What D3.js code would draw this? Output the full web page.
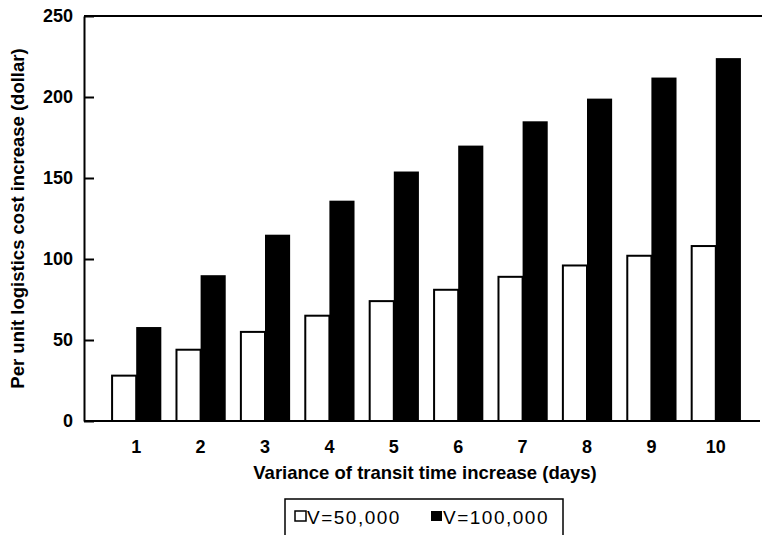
<!DOCTYPE html>
<meta charset="utf-8">
<style>
body {
  margin: 0;
  background-color: #fff;
}
text {
  font-family: "Liberation Sans", Arial, Helvetica, sans-serif;
  fill: #000;
}
.axis text {
  font-size: 18px;
  font-weight: bold;
}
.axis path,
.axis line {
  fill: none;
  stroke: #000;
  stroke-width: 2px;
}
.frame {
  stroke: #000;
  stroke-width: 2px;
}
.axis-title {
  font-size: 18.5px;
  font-weight: bold;
}
.bar-low {
  fill: #fff;
  stroke: #000;
  stroke-width: 2px;
}
.bar-high {
  fill: #000;
}
.legend-box {
  fill: none;
  stroke: #000;
  stroke-width: 1.5px;
}
.legend text {
  font-size: 19px;
  letter-spacing: 1.5px;
}
</style>
<body>
<svg width="763" height="535"></svg>
</body>

<script src="https://cdn.jsdelivr.net/npm/d3@7"></script>

<script>

// data
var days = ["1", "2", "3", "4", "5", "6", "7", "8", "9", "10"];
var seriesNames = ["V=50,000", "V=100,000"];
var costV50 = [28, 44, 55, 65, 74, 81, 89, 96, 102, 108];
var costV100 = [58, 90, 115, 136, 154, 170, 185, 199, 212, 224];
var yTicks = [0, 50, 100, 150, 200, 250];

var plot = {left: 84, right: 762, top: 16, bottom: 421};

var svg = d3.select("svg");

var x0 = d3.scaleBand()
  .domain(days)
  .range([104, 748])
  .paddingInner(0.22)
  .paddingOuter(0.11);

var x1 = d3.scaleBand()
  .domain(seriesNames)
  .range([0, x0.bandwidth()]);

var y = d3.scaleLinear()
  .domain([0, 250])
  .range([plot.bottom, plot.top]);

var rows = days.map(function(d, i) {
  return {day: d, values: [
    {name: seriesNames[0], v: costV50[i]},
    {name: seriesNames[1], v: costV100[i]}
  ]};
});

// frame: top line only, no right border
svg.append("line")
  .attr("class", "frame")
  .attr("x1", plot.left).attr("x2", plot.right)
  .attr("y1", y(250)).attr("y2", y(250));

var groups = svg.selectAll(".day")
  .data(rows)
  .enter().append("g")
  .attr("class", "day")
  .attr("transform", function(d) { return "translate(" + x0(d.day) + ",0)"; });

groups.selectAll("rect")
  .data(function(d) { return d.values; })
  .enter().append("rect")
  .attr("class", function(d, i) { return i == 0 ? "bar-low" : "bar-high"; })
  .attr("x", function(d, i) { return x1(d.name) + (i == 0 ? 1 : 0); })
  .attr("width", function(d, i) { return x1.bandwidth() - (i == 0 ? 1 : 0); })
  .attr("y", function(d) { return y(d.v); })
  .attr("height", function(d) { return y(0) - y(d.v); });

var yAxis = d3.axisLeft(y)
  .tickValues(yTicks)
  .tickSizeInner(-10)
  .tickSizeOuter(0)
  .tickPadding(11);

svg.append("g")
  .attr("class", "axis axis--y")
  .attr("transform", "translate(" + plot.left + ",0)")
  .call(yAxis);

var xAxis = d3.axisBottom(x0)
  .tickSize(0)
  .tickPadding(19);

var gX = svg.append("g")
  .attr("class", "axis axis--x")
  .attr("transform", "translate(0," + plot.bottom + ")")
  .call(xAxis);

gX.select(".domain")
  .attr("d", "M" + plot.left + ",0H" + (plot.right - 2));

svg.append("text")
  .attr("class", "axis-title")
  .attr("transform", "translate(24," + (plot.top + plot.bottom) / 2 + ") rotate(-90)")
  .style("text-anchor", "middle")
  .text("Per unit logistics cost increase (dollar)");

svg.append("text")
  .attr("class", "axis-title")
  .attr("x", 425)
  .attr("y", 479)
  .style("text-anchor", "middle")
  .text("Variance of transit time increase (days)");

// legend
var legend = svg.append("g")
  .attr("class", "legend")
  .attr("transform", "translate(285,499)");

legend.append("rect")
  .attr("class", "legend-box")
  .attr("width", 278)
  .attr("height", 60);

var items = legend.selectAll(".item")
  .data(seriesNames)
  .enter().append("g")
  .attr("class", "item")
  .attr("transform", function(d, i) { return "translate(" + (10 + i * 136) + ",0)"; });

items.append("rect")
  .attr("y", 12)
  .attr("width", 11)
  .attr("height", 10)
  .attr("class", function(d, i) { return i == 0 ? "bar-low" : "bar-high"; })
  .style("stroke-width", "1.5px");

items.append("text")
  .attr("x", 12)
  .attr("y", 25)
  .text(function(d) { return d; });

</script>
